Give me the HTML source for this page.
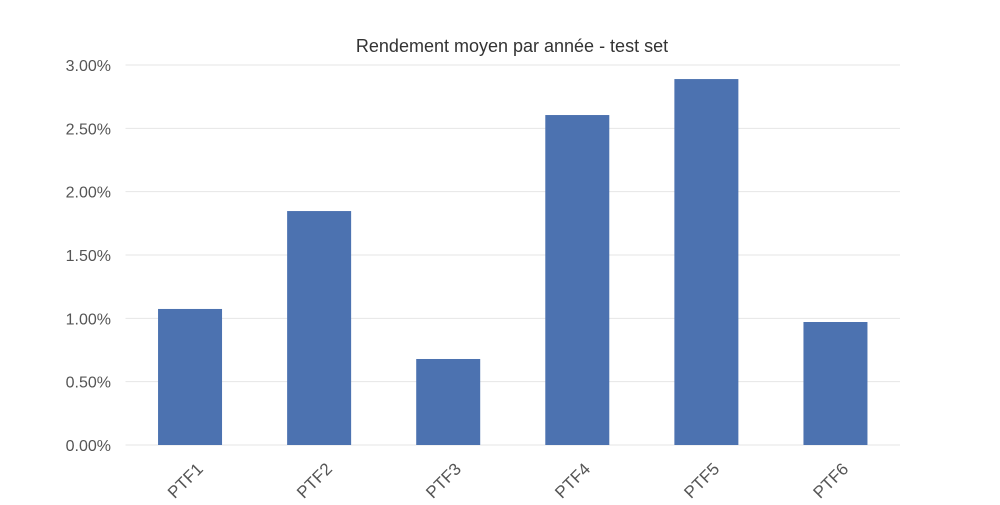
<!DOCTYPE html>
<html><head><meta charset="utf-8"><style>
body{margin:0;background:#fff;font-family:"Liberation Sans",sans-serif}
</style></head><body>
<svg id="chart" width="1000" height="500" xmlns="http://www.w3.org/2000/svg">
<text x="512" y="52" text-anchor="middle" font-size="18" fill="#333">Rendement moyen par année - test set</text>
<g id="grid"></g><g id="bars"></g><g id="ylabels"></g><g id="xlabels"></g>
</svg>
<script>
const categories=["PTF1","PTF2","PTF3","PTF4","PTF5","PTF6"];
const values=[1.074,1.847,0.679,2.605,2.889,0.971];
const yTicks=[0,0.5,1,1.5,2,2.5,3];
const yTickLabels=["0.00%","0.50%","1.00%","1.50%","2.00%","2.50%","3.00%"];
const ns="http://www.w3.org/2000/svg";
const L=125.5,R=900,T=65,B=445,yMax=3;
const y=v=>B-(v/yMax)*(B-T);
const step=(R-L)/categories.length;
const x=i=>L+step*(i+0.5);
function mk(t,a,p){const e=document.createElementNS(ns,t);for(const k in a)e.setAttribute(k,a[k]);p.appendChild(e);return e;}
const g=document.getElementById('grid'),yl=document.getElementById('ylabels');
yTicks.forEach((v,i)=>{
 const l=mk('line',{x1:L,x2:R,y1:y(v),y2:y(v),stroke:'#e6e6e6','stroke-width':1},g);
 
 
 const t=mk('text',{x:111,y:y(v)+6,'text-anchor':'end','font-size':16,fill:'#555'},yl);
 t.textContent=yTickLabels[i];
 
 
});
const bg=document.getElementById('bars'),xl=document.getElementById('xlabels');
categories.forEach((c,i)=>{
 const w=64;
 const r=mk('rect',{x:x(i)-w/2,y:y(values[i]),width:w,height:B-y(values[i]),fill:'#4c72b0'},bg);
 
 
 const cx=x(i)+14,cy=470;
 const t=mk('text',{x:cx,y:cy,'text-anchor':'end','font-size':17,fill:'#555',transform:`rotate(-45 ${cx} ${cy})`},xl);
 t.textContent=c;
 
 
});
</script>
</body></html>
